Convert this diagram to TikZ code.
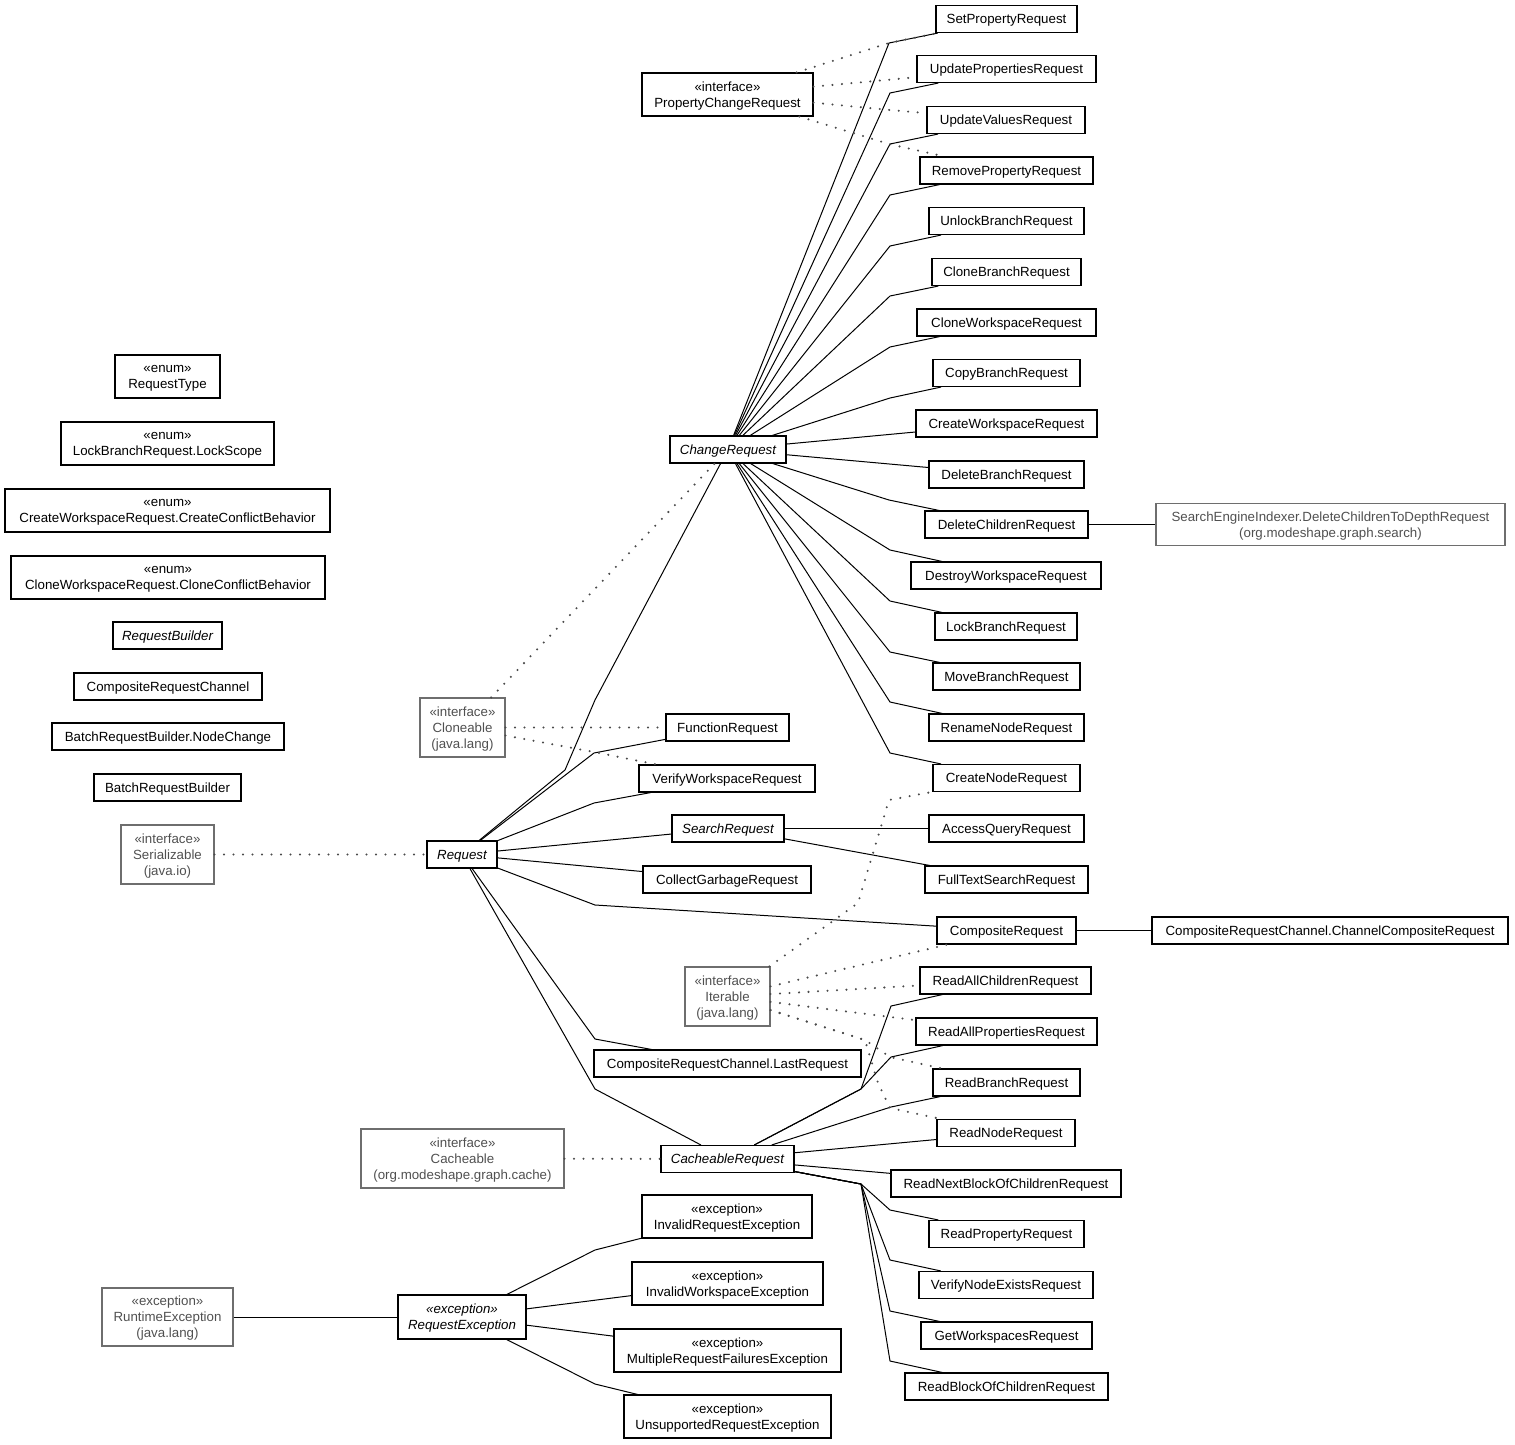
\documentclass[tikz,border=0pt]{standalone}
\usepackage{fontspec}
\setmainfont{Liberation Sans}
\definecolor{extgray}{HTML}{6E6E6E}
\definecolor{exttext}{HTML}{505050}
\definecolor{dotgray}{HTML}{4A4A4A}
\tikzset{
  cls/.style={draw=black, line width=1.1pt, rectangle, minimum height=27pt, inner sep=0pt,
              text depth=-1pt, align=center, font=\fontsize{13.3}{16}\selectfont, text=black},
  ext/.style={cls, draw=extgray, text=exttext},
  twoline/.style={minimum height=43pt},
  threeline/.style={minimum height=59pt},
  gen/.style={draw=black, line width=1pt},
  impl/.style={draw=dotgray, line width=2.3pt, dash pattern=on 0pt off 9.5pt, line cap=round},
}
\begin{document}
\begin{tikzpicture}[x=1pt,y=-1pt]
\useasboundingbox (0,0) rectangle (1515,1444);

% right column
\node[cls, minimum width=141pt] (setprop) at (1006.5,19) {SetPropertyRequest};
\node[cls, minimum width=179pt] (updprops) at (1006.5,69) {UpdatePropertiesRequest};
\node[cls, minimum width=158pt] (updvals) at (1006,120) {UpdateValuesRequest};
\node[cls, minimum width=173pt] (remprop) at (1006.5,170.5) {RemovePropertyRequest};
\node[cls, minimum width=155pt] (unlock) at (1006.5,221) {UnlockBranchRequest};
\node[cls, minimum width=149pt] (clonebr) at (1006.5,272) {CloneBranchRequest};
\node[cls, minimum width=179pt] (clonews) at (1006.5,322.5) {CloneWorkspaceRequest};
\node[cls, minimum width=147pt] (copybr) at (1006.5,373) {CopyBranchRequest};
\node[cls, minimum width=181pt] (createws) at (1006.5,423.5) {CreateWorkspaceRequest};
\node[cls, minimum width=155pt] (delbr) at (1006.5,474.5) {DeleteBranchRequest};
\node[cls, minimum width=163pt] (delch) at (1006.5,524.5) {DeleteChildrenRequest};
\node[cls, minimum width=190pt] (destroy) at (1006,575.5) {DestroyWorkspaceRequest};
\node[cls, minimum width=142pt] (lockbr) at (1006,626.5) {LockBranchRequest};
\node[cls, minimum width=147pt] (movebr) at (1006.5,676.5) {MoveBranchRequest};
\node[cls, minimum width=155pt] (rename) at (1006.5,727.5) {RenameNodeRequest};
\node[cls, minimum width=147pt] (createnode) at (1006.5,778) {CreateNodeRequest};
\node[cls, minimum width=155pt] (accessq) at (1006.5,828.5) {AccessQueryRequest};
\node[cls, minimum width=163pt] (fulltext) at (1006.5,879.5) {FullTextSearchRequest};
\node[cls, minimum width=139pt] (composite) at (1006.5,930.5) {CompositeRequest};
\node[cls, minimum width=171pt] (readallch) at (1005.5,980.5) {ReadAllChildrenRequest};
\node[cls, minimum width=181pt] (readallprops) at (1006.5,1031.5) {ReadAllPropertiesRequest};
\node[cls, minimum width=147pt] (readbranch) at (1006.5,1082.5) {ReadBranchRequest};
\node[cls, minimum width=138pt] (readnode) at (1006,1133) {ReadNodeRequest};
\node[cls, minimum width=230pt] (readnext) at (1006,1183.5) {ReadNextBlockOfChildrenRequest};
\node[cls, minimum width=155pt] (readprop) at (1006.5,1234) {ReadPropertyRequest};
\node[cls, minimum width=174pt] (verifynode) at (1006,1285) {VerifyNodeExistsRequest};
\node[cls, minimum width=171pt] (getws) at (1006.5,1335.5) {GetWorkspacesRequest};
\node[cls, minimum width=203pt] (readblock) at (1006.5,1386.5) {ReadBlockOfChildrenRequest};

% far right
\node[ext, twoline, minimum width=349pt, minimum height=42pt] (seidx) at (1330.5,524.5) {SearchEngineIndexer.DeleteChildrenToDepthRequest\\(org.modeshape.graph.search)};
\node[cls, minimum width=356pt] (chancomp) at (1330,930.5) {CompositeRequestChannel.ChannelCompositeRequest};

% middle column
\node[cls, twoline, minimum width=171pt] (propchg) at (727.5,94.5) {«interface»\\PropertyChangeRequest};
\node[cls, minimum width=116pt, font=\fontsize{13.3}{16}\selectfont\itshape] (chg) at (728,449.5) {ChangeRequest};
\node[cls, minimum width=123pt] (func) at (727.5,727.5) {FunctionRequest};
\node[cls, minimum width=176pt] (verify) at (727,778.5) {VerifyWorkspaceRequest};
\node[cls, minimum width=112pt, font=\fontsize{13.3}{16}\selectfont\itshape] (searchreq) at (728,828.5) {SearchRequest};
\node[cls, minimum width=168pt] (collect) at (727,879.5) {CollectGarbageRequest};
\node[ext, threeline, minimum width=85pt] (iter) at (727.5,996.5) {«interface»\\Iterable\\(java.lang)};
\node[cls, minimum width=267pt] (lastreq) at (727.5,1063.5) {CompositeRequestChannel.LastRequest};
\node[cls, minimum width=133pt, font=\fontsize{13.3}{16}\selectfont\itshape] (cachereq) at (727.5,1159) {CacheableRequest};
\node[cls, twoline, minimum width=170pt] (invreq) at (727,1216.5) {«exception»\\InvalidRequestException};
\node[cls, twoline, minimum width=191pt] (invws) at (727.5,1283.5) {«exception»\\InvalidWorkspaceException};
\node[cls, twoline, minimum width=227pt] (multi) at (727.5,1350.5) {«exception»\\MultipleRequestFailuresException};
\node[cls, twoline, minimum width=207pt] (unsup) at (727.5,1416.5) {«exception»\\UnsupportedRequestException};

% left-middle column
\node[ext, threeline, minimum width=85pt] (clone) at (462.5,727.5) {«interface»\\Cloneable\\(java.lang)};
\node[cls, minimum width=70pt, font=\fontsize{13.3}{16}\selectfont\itshape] (req) at (462,854.5) {Request};
\node[ext, threeline, minimum width=203pt] (cacheable) at (462.5,1158.5) {«interface»\\Cacheable\\(org.modeshape.graph.cache)};
\node[cls, twoline, minimum width=128pt, minimum height=44pt, font=\fontsize{13.3}{16}\selectfont\itshape] (reqexc) at (462,1317) {«exception»\\RequestException};

% left column
\node[cls, twoline, minimum width=105pt] (reqtype) at (167.5,376.5) {«enum»\\RequestType};
\node[cls, twoline, minimum width=213pt] (lockscope) at (167.5,443.5) {«enum»\\LockBranchRequest.LockScope};
\node[cls, twoline, minimum width=325pt] (createcb) at (167.5,510.5) {«enum»\\CreateWorkspaceRequest.CreateConflictBehavior};
\node[cls, twoline, minimum width=314pt] (clonecb) at (168,577.5) {«enum»\\CloneWorkspaceRequest.CloneConflictBehavior};
\node[cls, minimum width=109pt, font=\fontsize{13.3}{16}\selectfont\itshape] (reqbuilder) at (167.5,635.5) {RequestBuilder};
\node[cls, minimum width=188pt] (crchannel) at (168,686.5) {CompositeRequestChannel};
\node[cls, minimum width=232pt] (nodechange) at (168,736.5) {BatchRequestBuilder.NodeChange};
\node[cls, minimum width=147pt] (batch) at (167.5,787.5) {BatchRequestBuilder};
\node[ext, threeline, minimum width=93pt] (serial) at (167.5,854.5) {«interface»\\Serializable\\(java.io)};
\node[ext, threeline, minimum width=131pt, minimum height=58pt] (runtime) at (167.5,1317) {«exception»\\RuntimeException\\(java.lang)};

% ChangeRequest children
\draw[gen] (chg) -- (889,43) -- (setprop);
\draw[gen] (chg) -- (890,93) -- (updprops);
\draw[gen] (chg) -- (890,144) -- (updvals);
\draw[gen] (chg) -- (890,195) -- (remprop);
\draw[gen] (chg) -- (890,246) -- (unlock);
\draw[gen] (chg) -- (890,296) -- (clonebr);
\draw[gen] (chg) -- (890,347) -- (clonews);
\draw[gen] (chg) -- (890,398) -- (copybr);
\draw[gen] (chg) -- (createws);
\draw[gen] (chg) -- (delbr);
\draw[gen] (chg) -- (889,500) -- (delch);
\draw[gen] (chg) -- (890,550) -- (destroy);
\draw[gen] (chg) -- (890,601) -- (lockbr);
\draw[gen] (chg) -- (890,652) -- (movebr);
\draw[gen] (chg) -- (890,702) -- (rename);
\draw[gen] (chg) -- (890,753) -- (createnode);

% Request children
\draw[gen] (req) -- (565,770) -- (595,700) -- (chg);
\draw[gen] (req) -- (594,753) -- (func);
\draw[gen] (req) -- (594,803) -- (verify);
\draw[gen] (req) -- (searchreq);
\draw[gen] (req) -- (collect);
\draw[gen] (req) -- (595,905) -- (composite);
\draw[gen] (req) -- (595,1039) -- (lastreq);
\draw[gen] (req) -- (595,1089) -- (cachereq);

% SearchRequest children
\draw[gen] (searchreq) -- (accessq);
\draw[gen] (searchreq) -- (fulltext);

% other subclasses
\draw[gen] (delch) -- (seidx);
\draw[gen] (composite) -- (chancomp);

% CacheableRequest children
\draw[gen] (cachereq) -- (861,1089) -- (891,1006) -- (readallch);
\draw[gen] (cachereq) -- (861,1089) -- (891,1057) -- (readallprops);
\draw[gen] (cachereq) -- (891,1107) -- (readbranch);
\draw[gen] (cachereq) -- (readnode);
\draw[gen] (cachereq) -- (readnext);
\draw[gen] (cachereq) -- (861,1184) -- (890,1210) -- (readprop);
\draw[gen] (cachereq) -- (861,1184) -- (890,1260) -- (verifynode);
\draw[gen] (cachereq) -- (861,1184) -- (890,1311) -- (getws);
\draw[gen] (cachereq) -- (861,1184) -- (890,1361) -- (readblock);

% exceptions
\draw[gen] (runtime) -- (reqexc);
\draw[gen] (reqexc) -- (595,1250) -- (invreq);
\draw[gen] (reqexc) -- (invws);
\draw[gen] (reqexc) -- (multi);
\draw[gen] (reqexc) -- (595,1384) -- (unsup);

% interface realizations
\draw[impl] (propchg) -- (889,43) -- (setprop);
\draw[impl] (propchg) -- (updprops);
\draw[impl] (propchg) -- (890,110) -- (updvals);
\draw[impl] (propchg) -- (889,144) -- (remprop);

\draw[impl] (clone) -- (chg);
\draw[impl] (clone) -- (func);
\draw[impl] (clone) -- (594,752) -- (verify);

\draw[impl] (serial) -- (req);
\draw[impl] (cacheable) -- (cachereq);

\draw[impl] (iter) -- (858,903) -- (889,800) -- (createnode);
\draw[impl] (iter) -- (composite);
\draw[impl] (iter) -- (readallch);
\draw[impl] (iter) -- (readallprops);
\draw[impl] (iter) -- (865,1040) -- (890,1057) -- (readbranch);
\draw[impl] (iter) -- (865,1040) -- (878,1083) -- (890,1108) -- (readnode);
\end{tikzpicture}
\end{document}
